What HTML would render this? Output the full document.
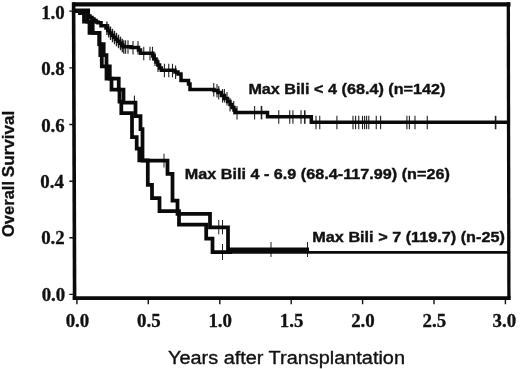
<!DOCTYPE html>
<html><head><meta charset="utf-8">
<style>
html,body{margin:0;padding:0;background:#fff;}
body{width:520px;height:369px;overflow:hidden;position:relative;}
svg{position:absolute;left:0;top:0;display:block;filter:blur(0.35px);}
.ser{font-family:"Liberation Serif",serif;font-weight:bold;font-size:17.8px;fill:#111;stroke:#111;stroke-width:0.3px;}
.san{font-family:"Liberation Sans",sans-serif;font-weight:bold;font-size:15.5px;fill:#111;stroke:#111;stroke-width:0.4px;}
.xl{font-family:"Liberation Sans",sans-serif;font-size:18px;fill:#111;stroke:#111;stroke-width:0.35px;}
.yl{font-family:"Liberation Sans",sans-serif;font-weight:bold;font-size:16.5px;fill:#111;stroke:#111;stroke-width:0.3px;}
</style></head><body>
<svg width="520" height="369" viewBox="0 0 520 369">
<rect x="0" y="0" width="520" height="369" fill="#fff"/>
<!-- frame -->
<g stroke="#0a0a0a" fill="none">
<path d="M72.7,4.3H510.5" stroke-width="4.2"/>
<path d="M72.7,298.15H510.5" stroke-width="3.6"/>
<path d="M73.6,2.2L74.6,299.7" stroke-width="3.6"/>
<path d="M508.3,2.2L508.9,299.7" stroke-width="3.3"/>
</g>
<!-- axis ticks -->
<g stroke="#111" stroke-width="1.4">
<path d="M69.3,11.1H74 M69.3,67.9H74 M69.3,124.5H74 M69.3,181.2H74 M69.3,237.8H74 M69.3,294.4H74"/>
<path d="M76.9,299V304.3 M148.3,299V304.3 M219.8,299V304.3 M291.2,299V304.3 M362.6,299V304.3 M434,299V304.3 M505.4,299V304.3"/>
</g>
<!-- y tick labels -->
<g class="ser" text-anchor="end">
<text x="64.8" y="18.7" textLength="23.6" lengthAdjust="spacingAndGlyphs">1.0</text>
<text x="64.8" y="75.2" textLength="23.6" lengthAdjust="spacingAndGlyphs">0.8</text>
<text x="64.8" y="131.7" textLength="23.6" lengthAdjust="spacingAndGlyphs">0.6</text>
<text x="63.9" y="188.1" textLength="23.6" lengthAdjust="spacingAndGlyphs">0.4</text>
<text x="64.8" y="244.4" textLength="23.6" lengthAdjust="spacingAndGlyphs">0.2</text>
<text x="65.3" y="301.2" textLength="23.6" lengthAdjust="spacingAndGlyphs">0.0</text>
</g>
<!-- x tick labels -->
<g class="ser" text-anchor="middle">
<text x="77.5" y="327.1" textLength="23.6" lengthAdjust="spacingAndGlyphs">0.0</text>
<text x="148.8" y="327.1" textLength="23.6" lengthAdjust="spacingAndGlyphs">0.5</text>
<text x="220.2" y="327.1" textLength="23.6" lengthAdjust="spacingAndGlyphs">1.0</text>
<text x="291.6" y="327.1" textLength="23.6" lengthAdjust="spacingAndGlyphs">1.5</text>
<text x="363" y="327.1" textLength="23.6" lengthAdjust="spacingAndGlyphs">2.0</text>
<text x="434.4" y="327.1" textLength="23.6" lengthAdjust="spacingAndGlyphs">2.5</text>
<text x="504.3" y="327.1" textLength="23.6" lengthAdjust="spacingAndGlyphs">3.0</text>
</g>
<text class="xl" x="168" y="363.5" textLength="237" lengthAdjust="spacingAndGlyphs">Years after Transplantation</text>
<text class="yl" transform="translate(13.7,237) rotate(-90)"><tspan textLength="56" lengthAdjust="spacingAndGlyphs">Overall</tspan> <tspan dx="-0.8" textLength="66.5" lengthAdjust="spacingAndGlyphs">Survival</tspan></text>
<!-- legends -->
<text class="san" x="248.4" y="93.6" textLength="197" lengthAdjust="spacingAndGlyphs">Max Bili &lt; 4 (68.4) (n=142)</text>
<text class="san" x="184.8" y="178.8" textLength="265" lengthAdjust="spacingAndGlyphs">Max Bili 4 - 6.9 (68.4-117.99) (n=26)</text>
<text class="san" x="312.3" y="242.1" textLength="192.6" lengthAdjust="spacingAndGlyphs">Max Bili &gt; 7 (119.7) (n-25)</text>
<!-- censoring ticks -->
<g fill="none" stroke="#222">
<path d="M106.9,21.5V35.0" stroke-width="1.3"/>
<path d="M108.6,24.0V37.5" stroke-width="1.3"/>
<path d="M110.5,26.5V40.0" stroke-width="1.3"/>
<path d="M112.5,28.8V42.3" stroke-width="1.3"/>
<path d="M114.5,30.8V44.3" stroke-width="1.3"/>
<path d="M116.5,32.8V46.3" stroke-width="1.3"/>
<path d="M118.5,34.7V48.2" stroke-width="1.3"/>
<path d="M120.5,36.7V50.2" stroke-width="1.3"/>
<path d="M122.3,38.7V52.2" stroke-width="1.3"/>
<path d="M123.8,40.3V53.8" stroke-width="1.3"/>
<path d="M125.6,40.3V53.8" stroke-width="1.1"/>
<path d="M128,40.3V53.8" stroke-width="1.1"/>
<path d="M133,41.0V54.5" stroke-width="1.1"/>
<path d="M138,41.0V54.5" stroke-width="1.1"/>
<path d="M143.75,46.8V60.3" stroke-width="1.1"/>
<path d="M150,46.8V60.3" stroke-width="1.1"/>
<path d="M152.5,46.8V60.3" stroke-width="1.1"/>
<path d="M155,52.5V66.0" stroke-width="1.1"/>
<path d="M158,58.5V72.0" stroke-width="1.1"/>
<path d="M164.4,63.8V77.3" stroke-width="1.1"/>
<path d="M168.75,63.8V77.3" stroke-width="1.1"/>
<path d="M172.5,63.8V77.3" stroke-width="1.1"/>
<path d="M175.6,65.5V79.0" stroke-width="1.1"/>
<path d="M213.75,82.9V96.4" stroke-width="1.1"/>
<path d="M217,84.0V97.5" stroke-width="1.1"/>
<path d="M218.75,86.0V99.5" stroke-width="1.1"/>
<path d="M222.5,89.0V102.5" stroke-width="1.1"/>
<path d="M224.4,89.0V102.5" stroke-width="1.1"/>
<path d="M227,92.0V105.5" stroke-width="1.1"/>
<path d="M230,98.0V111.5" stroke-width="1.1"/>
<path d="M233.75,101.0V114.5" stroke-width="1.1"/>
<path d="M237,105.9V119.4" stroke-width="1.1"/>
<path d="M254.6,105.9V119.4" stroke-width="1.1"/>
<path d="M261.5,105.9V119.4" stroke-width="1.6"/>
<path d="M278.75,110.3V123.8" stroke-width="1.1"/>
<path d="M289.75,110.3V123.8" stroke-width="1.1"/>
<path d="M292.9,110.3V123.8" stroke-width="1.1"/>
<path d="M301,110.3V123.8" stroke-width="1.1"/>
<path d="M304.75,110.3V123.8" stroke-width="1.6"/>
<path d="M316,115.8V129.3" stroke-width="1.1"/>
<path d="M319.75,115.8V129.3" stroke-width="1.1"/>
<path d="M336.9,115.8V129.3" stroke-width="1.1"/>
<path d="M353,115.8V129.3" stroke-width="1.1"/>
<path d="M355.6,115.8V129.3" stroke-width="1.1"/>
<path d="M358.75,115.8V129.3" stroke-width="1.1"/>
<path d="M362.5,115.8V129.3" stroke-width="1.1"/>
<path d="M364.6,115.8V129.3" stroke-width="1.1"/>
<path d="M366.6,115.8V129.3" stroke-width="1.1"/>
<path d="M368.8,115.8V129.3" stroke-width="1.1"/>
<path d="M376.25,115.8V129.3" stroke-width="1.1"/>
<path d="M380.6,115.8V129.3" stroke-width="1.1"/>
<path d="M406.9,115.8V129.3" stroke-width="1.1"/>
<path d="M409.4,115.8V129.3" stroke-width="1.1"/>
<path d="M415,115.8V129.3" stroke-width="1.1"/>
<path d="M427.25,115.8V129.3" stroke-width="1.1"/>
<path d="M495.6,115.8V129.3" stroke-width="1.6"/>
<path d="M164,153.75V167.5" stroke-width="1"/>
<path d="M218.75,220V234.4" stroke-width="1"/>
<path d="M222.5,220V234.4" stroke-width="1"/>
<path d="M222.5,244V260" stroke-width="1"/>
<path d="M271,242V257" stroke-width="1"/>
<path d="M307.5,242V257" stroke-width="1"/>
<path d="M134.5,95.6V101" stroke-width="1"/>
<path d="M134.4,96V101" stroke-width="1"/>
</g>
<!-- survival curves -->
<g fill="none" stroke="#0a0a0a" stroke-linejoin="miter" stroke-linecap="butt">
<path stroke-width="3.5" d="M75,10.2 H88.3 V16 H90 V17.5 H92 V19 H94 V20.5 H96 V22 H98 V22.7 H101 V25.8 H106 V28 H107.7 V30.5 H109.5 V33 H111.5 V35.3 H113.5 V37.3 H115.5 V39.3 H117.5 V41.2 H119.5 V43.2 H121.5 V45.2 H123 V46.8 H131 V47.5 H138.5 V50 H140.5 V53.3 H152.8 V56 H154.2 V59 H156 V62 H157.8 V65 H159.6 V68 H161.3 V70.3 H175 V72 H178 V74 H181 V80.6 H188.5 V84 H190 V89.4 H214 V90.5 H218 V92.5 H221.5 V95.5 H224.5 V98.5 H227.5 V101.5 H230 V104.5 H232 V107.5 H234 V110 H235.5 V112.4 H267.5 V116.8 H311.3 V122.3 H508"/>
<path stroke-width="3.75" d="M75,11.2 H87.3 V21.7 H92.7 V32.8 H99.4 V44 H103.7 V55 H106.5 V66.3 H109.8 V78.5 H118.75 V89.5 H123.5 V102.5 H135.5 V116 H140.5 V129 H142.5 V160.6 H167.5 V173.75 H172.5 V200.6 H177.5 V213.75 H210 V227.3 H228 V249.4 H309"/>
<path stroke-width="3.75" d="M75,11.2 H80 V13.2 H84 V21.7 H89.5 V32.8 H99.4 V44 H100.3 V55 H101.8 V66.3 H106.5 V78.5 H111.5 V89.5 H119.5 V101.5 H121.3 V113 H132 V137 H136.7 V148.7 H139.3 V160.3 H147.8 V184.8 H152 V198 H159.5 V211.2 H179 V224.7 H206.2 V238.5 H212.5 V252.2 H232"/>
<path stroke-width="2.7" d="M230,252.3H508"/>
</g>
</svg>
</body></html>
